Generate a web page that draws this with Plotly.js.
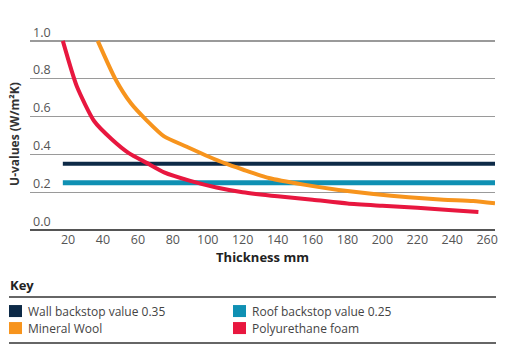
<!DOCTYPE html>
<html>
<head>
<meta charset="utf-8">
<script src="https://cdn.plot.ly/plotly-3.0.1.min.js"></script>
<style>html,body{margin:0;padding:0;background:#fff;}#chart{width:507px;height:356px;}</style>
</head>
<body>
<div id="chart"></div>
<script>
// ---- data ----
const seriesNames = ["Wall backstop value 0.35", "Roof backstop value 0.25", "Mineral Wool", "Polyurethane foam"];
const seriesColors = ["#0d2a47", "#0f90b3", "#f7941d", "#e8173f"];
const wallX = [17, 264.5];
const wallY = [0.35, 0.35];
const roofX = [17, 264.5];
const roofY = [0.25, 0.25];
const woolX = [37, 47, 56, 65, 75, 88, 100, 110, 120, 135, 155, 175, 195, 215, 235, 252, 264.5];
const woolY = [1.0, 0.80, 0.67, 0.58, 0.495, 0.44, 0.39, 0.352, 0.32, 0.275, 0.24, 0.212, 0.19, 0.173, 0.16, 0.153, 0.141];
const pufX = [17, 25, 35, 45, 55, 65, 75, 90, 105, 120, 140, 160, 180, 200, 220, 240, 255];
const pufY = [1.0, 0.76, 0.575, 0.48, 0.405, 0.355, 0.305, 0.26, 0.225, 0.2, 0.178, 0.16, 0.14, 0.128, 0.117, 0.105, 0.095];
const xTicks = [20, 40, 60, 80, 100, 120, 140, 160, 180, 200, 220, 240, 260];
const yTicks = [0.0, 0.2, 0.4, 0.6, 0.8, 1.0];
const yTickText = ["0.0", "0.2", "0.4", "0.6", "0.8", "1.0"];
const xTitle = "Thickness mm";
const yTitle = "U-values (W/m²K)";
const keyTitle = "Key";

// ---- layout helpers (pixel -> paper) ----
const YMAX = 1.01;
const L = 30, R = 495, B = 230, Y1 = 41;
const T = B - (B - Y1) * YMAX;
const px = v => (v - L) / (R - L);
const py = v => (B - v) / (B - T);

const FONT = "Open Sans, Noto Sans, sans-serif";
const xs = [wallX, roofX, woolX, pufX];
const ys = [wallY, roofY, woolY, pufY];
const widths = [4, 5, 4, 4];
const traces = xs.map((x, i) => ({
  x: x, y: ys[i], type: "scatter", mode: "lines", name: seriesNames[i],
  line: {color: seriesColors[i], width: widths[i], shape: i >= 2 ? "spline" : "linear", smoothing: 0.6},
  showlegend: false, cliponaxis: false, hoverinfo: "skip"
}));

const shapes = [
  {type: "line", xref: "paper", yref: "paper", x0: px(9), x1: px(496), y0: py(297), y1: py(297), line: {color: "#333", width: 1.5}},
  {type: "line", xref: "paper", yref: "paper", x0: px(9), x1: px(496), y0: py(343), y1: py(343), line: {color: "#333", width: 1.5}}
];
const annotations = [
  {text: "<b>" + keyTitle + "</b>", xref: "paper", yref: "paper", x: px(8), y: py(285), xanchor: "left", yanchor: "middle", showarrow: false, font: {family: FONT, size: 13, color: "#222"}},
  {text: "<b>" + yTitle + "</b>", xref: "paper", yref: "paper", x: px(15), y: py(134), xanchor: "center", yanchor: "middle", textangle: -90, showarrow: false, font: {family: FONT, size: 12, color: "#333"}}
];
const colX = [9, 233], rowY = [311, 328];
seriesNames.forEach((n, i) => {
  const cx = colX[i % 2], cy = rowY[Math.floor(i / 2)];
  shapes.push({type: "rect", xref: "paper", yref: "paper", x0: px(cx), x1: px(cx + 13), y0: py(cy - 6), y1: py(cy + 6), fillcolor: seriesColors[i], line: {width: 0}});
  annotations.push({text: n, xref: "paper", yref: "paper", x: px(cx + 17), y: py(cy), xanchor: "left", yanchor: "middle", showarrow: false, font: {family: FONT, size: 12, color: "#444"}});
});

const layout = {
  width: 507, height: 356,
  margin: {l: L, r: 507 - R, t: T, b: 356 - B, pad: 0},
  paper_bgcolor: "#fff", plot_bgcolor: "#fff",
  font: {family: FONT, color: "#555"},
  xaxis: {
    range: [-1.8, 264.5], tickvals: xTicks, ticktext: xTicks.map(String),
    showgrid: false, zeroline: false, showline: false, ticks: "",
    tickfont: {family: FONT, size: 12.5, color: "#555"},
    title: {text: "<b>" + xTitle + "</b>", font: {family: FONT, size: 13, color: "#222"}, standoff: 6}
  },
  yaxis: {
    range: [0, YMAX], tickvals: yTicks, ticktext: yTickText,
    showgrid: true, gridcolor: "#9a9a9a", gridwidth: 1.3,
    zeroline: true, zerolinecolor: "#555", zerolinewidth: 2,
    showline: false, ticks: "", ticklabelposition: "inside top", ticklabeloverflow: "allow",
    tickfont: {family: FONT, size: 12.5, color: "#555"}
  },
  shapes: shapes, annotations: annotations, showlegend: false
};
Plotly.newPlot("chart", traces, layout, {displayModeBar: false, staticPlot: true});
</script>
</body>
</html>
